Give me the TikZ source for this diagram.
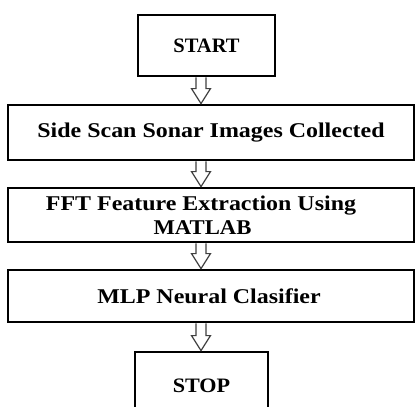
\documentclass[tikz,border=0pt]{standalone}
\usepackage{fontspec}
\setmainfont{Liberation Serif}
\newfontfamily\wideserif{Liberation Serif}[FakeStretch=1.14]
\newfontfamily\midserif{Liberation Serif}[FakeStretch=1.08]
\usetikzlibrary{calc}
\tikzset{
  box/.style={draw=black, line width=2.8pt, fill=white, rectangle, inner sep=0pt, align=center},
  barrow/.style={draw=black!75, line width=1.2pt, fill=white, line join=miter},
  plaintxt/.style={font=\fontsize{20.5}{24}\selectfont\bfseries},
  widetxt/.style={font=\fontsize{21}{24}\selectfont\wideserif\bfseries},
}
\newcommand\blockarr[2]{%
  \draw[barrow] let \p1=(#1.south -| ax), \p2=(#2.north -| ax) in
    (\x1-5pt,\y1) -- (\x1-5pt,\y2+15pt) -- (\x1-9.5pt,\y2+15pt) -- (\x1,\y2)
    -- (\x1+9.5pt,\y2+15pt) -- (\x1+5pt,\y2+15pt) -- (\x1+5pt,\y1);}
\begin{document}
\begin{tikzpicture}[x=1pt,y=-1pt]
\useasboundingbox (0,0) rectangle (416,407);
\clip (0,0) rectangle (416,407);
\fill[white] (0,0) rectangle (416,407);
\coordinate (ax) at (201,0);
\node[box, plaintxt, minimum width=137pt, minimum height=61pt] (start) at (206.5,45.5) {START};
\node[box, widetxt, minimum width=406pt, minimum height=55pt] (side) at (211,132.5) {Side Scan Sonar Images Collected};
\node[box, widetxt, minimum width=406pt, minimum height=54pt] (fft) at (211,215)
  {FFT Feature Extraction Using\kern20pt\\{\midserif\bfseries MATLAB}\kern17pt};
\node[box, widetxt, minimum width=406pt, minimum height=52pt] (mlp) at (211,296) {MLP Neural Clasifier\kern4pt};
\node[box, font=\fontsize{20.5}{24}\selectfont\midserif\bfseries, minimum width=133pt, minimum height=68pt] (stop) at (201.5,386) {STOP};
\blockarr{start}{side}
\blockarr{side}{fft}
\blockarr{fft}{mlp}
\blockarr{mlp}{stop}
\end{tikzpicture}
\end{document}
